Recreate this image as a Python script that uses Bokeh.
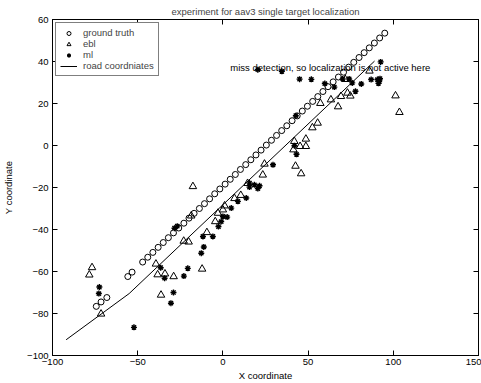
from bokeh.plotting import figure
from bokeh.models import LinearAxis, FixedTicker, CustomJSTickFormatter, Label
from bokeh.embed import file_html
from bokeh.resources import INLINE

# ---------------- data ----------------
gt_x = [-74.3, -71.5, -68.1, -55.8, -53.3,
        -47.1, -44.1, -41.1, -38.0, -35.0, -32.0, -29.0, -25.9, -22.9, -19.9,
        -16.9, -13.8, -10.8, -7.8, -4.8, -1.8, 1.3, 4.3, 7.3, 10.3,
        13.4, 16.4, 19.4, 22.4, 25.5, 28.5, 31.5, 34.5, 37.5, 40.6,
        43.6, 46.6, 49.6, 52.7, 55.7, 58.7, 61.7, 64.7, 67.8, 70.8,
        73.8, 76.8, 79.9, 82.9, 85.9, 88.9, 92.0, 95.0]
gt_y = [-76.6, -74.5, -72.4, -62.4, -60.3,
        -55.5, -53.2, -50.9, -48.5, -46.2, -43.9, -41.6, -39.3, -37.0, -34.6,
        -32.3, -30.0, -27.7, -25.4, -23.0, -20.7, -18.4, -16.1, -13.8, -11.4,
        -9.1, -6.8, -4.5, -2.2, 0.2, 2.5, 4.8, 7.1, 9.4, 11.8,
        14.1, 16.4, 18.7, 21.0, 23.3, 25.7, 28.0, 30.3, 32.6, 34.9,
        37.3, 39.6, 41.9, 44.2, 46.5, 48.8, 51.2, 53.5]

ebl_x = [-78.4, -76.8, -71.5, -39.3, -38.3, -34.0, -28.9, -36.3, -23.0, -20.1,
         -12.2, -17.6, -18.6, -9.4, -4.5, -2.9, 0.0, 1.0, 6.8, 10.5,
         14.5, 23.4, 24.4, 42.6, 45.9, 41.9, 41.4, 45.3, 48.7, 48.7,
         52.5, 55.6, 57.2, 63.4, 67.6, 69.3, 73.1, 74.8, 71.8, 86.0,
         101.3, 103.6]
ebl_y = [-61.6, -58.1, -80.2, -56.4, -61.5, -61.1, -62.4, -71.2, -45.5, -45.9,
         -58.8, -19.5, -33.5, -41.4, -36.2, -32.2, -30.6, -28.7, -25.2, -23.7,
         -18.0, -14.0, -8.8, -9.8, -13.4, 2.0, -2.0, -0.4, -0.4, 3.1,
         8.5, 10.7, 20.1, 21.8, 18.5, 23.4, 25.0, 23.6, 31.5, 35.5,
         23.7, 15.8]

ml_x = [-72.5, -72.8, -52.2, -36.5, -34.2, -29.0, -30.5, -22.9, -20.6, -12.7,
        -11.2, -11.7, -28.4, -26.8, -5.9, -2.6, -1.0, 0.0, 2.5, 4.9,
        8.8, 13.7, 15.6, 15.6, 18.5, 21.5, 20.5, 29.4, 43.2, 42.0,
        42.8, 20.5, 34.6, 45.0, 51.9, 59.8, 65.4, 70.3, 74.1, 75.9,
        77.8, 81.2, 87.0, 92.6, 90.7, 91.7, 92.2, 91.3]
ml_y = [-67.4, -70.5, -86.6, -58.2, -63.2, -70.0, -75.1, -62.2, -58.5, -51.3,
        -48.3, -43.3, -39.4, -38.4, -43.3, -38.6, -36.2, -33.8, -34.1, -29.8,
        -26.6, -25.0, -19.8, -17.9, -18.7, -19.2, -20.5, -9.2, -4.2, -0.1,
        14.2, 36.1, 35.3, 31.6, 31.5, 29.5, 27.8, 31.7, 31.7, 29.8,
        25.8, 29.3, 31.4, 39.8, 31.4, 30.4, 31.8, 29.6]

road_x = [-92.0, -55.0, 89.0]
road_y = [-92.5, -70.5, 40.2]

x_ticks = [-100, -50, 0, 50, 100, 150]
y_ticks = [-100, -80, -60, -40, -20, 0, 20, 40, 60]

title_text = "experiment for aav3 single target localization"
note_text = "miss detection, so localization is not active here"
x_label = "X coordinate"
y_label = "Y coordinate"

FONT = "Liberation Sans"
FS = "9.5px"

p = figure(width=481, height=383, output_backend="svg", toolbar_location=None,
           x_range=(-100, 150), y_range=(-100, 60),
           min_border=0, min_border_left=51, min_border_right=3,
           min_border_top=0, min_border_bottom=0)

p.title.text = title_text
p.title.align = "center"
p.title.text_font = FONT
p.title.text_font_size = FS
p.title.text_font_style = "normal"
p.title.standoff = 6
p.title.offset = 0

p.grid.visible = False
p.outline_line_color = "black"
p.background_fill_color = "white"
p.border_fill_color = "white"

fmt = CustomJSTickFormatter(code="return tick < 0 ? '\\u2212' + Math.abs(tick) : '' + tick;")
blank = CustomJSTickFormatter(code="return '';")

for ax, ticks, lab, lstand, astand in ((p.xaxis[0], x_ticks, x_label, 3, 2),
                                       (p.yaxis[0], y_ticks, y_label, 4, 10)):
    ax.ticker = FixedTicker(ticks=ticks)
    ax.formatter = fmt
    ax.major_tick_in = 5
    ax.major_tick_out = 0
    ax.minor_tick_line_color = None
    ax.axis_line_color = "black"
    ax.major_tick_line_color = "black"
    ax.major_label_text_font = FONT
    ax.major_label_text_font_size = FS
    ax.major_label_text_color = "black"
    ax.major_label_standoff = lstand
    ax.axis_label = lab
    ax.axis_label_text_font = FONT
    ax.axis_label_text_font_size = FS
    ax.axis_label_text_font_style = "normal"
    ax.axis_label_text_color = "black"
    ax.axis_label_standoff = astand

for loc, ticks in (("above", x_ticks), ("right", y_ticks)):
    ax = LinearAxis(ticker=FixedTicker(ticks=ticks), formatter=blank)
    ax.major_tick_in = 5
    ax.major_tick_out = 0
    ax.minor_tick_line_color = None
    ax.axis_line_color = "black"
    ax.major_label_standoff = 0
    p.add_layout(ax, loc)

p.scatter(gt_x, gt_y, marker="circle", size=6, fill_color=None,
          line_color="black", line_width=1, legend_label="ground truth")
p.scatter(ebl_x, ebl_y, marker="triangle", size=7.5, fill_color=None,
          line_color="black", line_width=1, legend_label="ebl")
p.scatter(ml_x, ml_y, marker="asterisk", size=6, line_color="black",
          line_width=1.4, legend_label="ml")
p.line(road_x, road_y, line_color="black", line_width=1, legend_label="road coordniates")

p.add_layout(Label(x=4.3, y=37.1, text=note_text, text_baseline="middle",
                   text_font=FONT, text_font_size=FS, text_color="black"))

lg = p.legend[0]
lg.location = "top_left"
lg.margin = 3
lg.padding = 4
lg.spacing = 0
lg.label_height = 10
lg.glyph_height = 10
lg.glyph_width = 17
lg.label_standoff = 6
lg.label_text_font = FONT
lg.label_text_font_size = FS
lg.border_line_color = "black"
lg.border_line_width = 1
lg.background_fill_alpha = 1

open("out.html", "w").write(file_html(p, INLINE))
